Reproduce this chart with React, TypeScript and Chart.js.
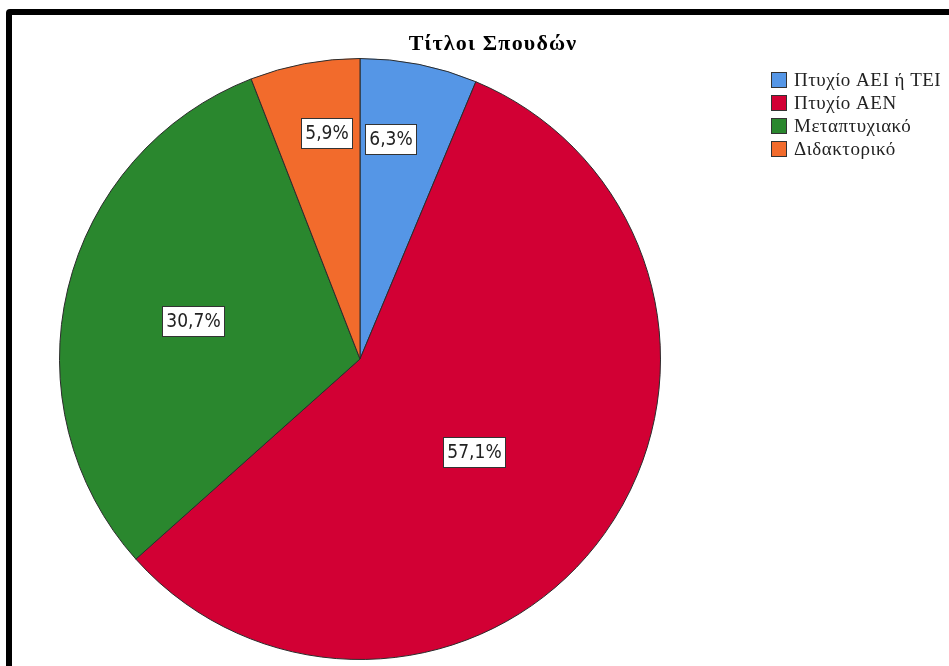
import React, { useEffect, useRef } from "react";
import { Chart, registerables } from "chart.js";

Chart.register(...registerables);

const titleText = "Τίτλοι Σπουδών";
const categories = ["Πτυχίο ΑΕΙ ή ΤΕΙ", "Πτυχίο ΑΕΝ", "Μεταπτυχιακό", "Διδακτορικό"];
const values = [6.3, 57.1, 30.7, 5.9];
const valueLabels = ["6,3%", "57,1%", "30,7%", "5,9%"];
const colors = ["#5596E6", "#D20034", "#2A872E", "#F26B2C"];

// label placement styling: fraction of radius, angle offset from slice middle (degrees)
const labelRadiusFrac = [0.74, 0.49, 0.57, 0.76];
const labelAngleOffset = [-3.5, 3.8, -0.7, 2.3];

const overlayPlugin = {
  id: "overlay",
  afterDatasetsDraw(chart: any) {
    const ctx = chart.ctx;
    const meta = chart.getDatasetMeta(0);
    ctx.save();
    // value labels
    ctx.font = '19px "DejaVu Sans Condensed", "Liberation Sans", sans-serif';
    ctx.textAlign = "center";
    ctx.textBaseline = "middle";
    meta.data.forEach((arc: any, i: number) => {
      const mid = (arc.startAngle + arc.endAngle) / 2 + (labelAngleOffset[i] * Math.PI) / 180;
      const r = arc.outerRadius * labelRadiusFrac[i];
      const x = arc.x + Math.cos(mid) * r;
      const y = arc.y + Math.sin(mid) * r;
      const w = Math.round(ctx.measureText(valueLabels[i]).width + 8);
      const h = 30;
      const bx = Math.round(x - w / 2) + 0.5;
      const by = Math.round(y - h / 2) + 0.5;
      ctx.fillStyle = "#ffffff";
      ctx.fillRect(bx, by, w, h);
      ctx.strokeStyle = "#333333";
      ctx.lineWidth = 1;
      ctx.strokeRect(bx, by, w, h);
      ctx.fillStyle = "#222222";
      ctx.fillText(valueLabels[i], bx + w / 2, by + h / 2 + 1);
    });
    // title
    ctx.font = 'bold 22px "Liberation Serif", "Times New Roman", serif';
    (ctx as any).letterSpacing = "1.2px";
    ctx.fillStyle = "#000000";
    ctx.textAlign = "center";
    ctx.fillText(titleText, 493, 44);
    // legend
    ctx.font = '19px "Liberation Serif", "Times New Roman", serif';
    (ctx as any).letterSpacing = "0.5px";
    ctx.textAlign = "left";
    categories.forEach((c, i) => {
      const y = 72 + i * 23;
      ctx.fillStyle = colors[i];
      ctx.fillRect(771.5, y + 0.5, 15, 15);
      ctx.strokeStyle = "#333333";
      ctx.strokeRect(771.5, y + 0.5, 15, 15);
      ctx.fillStyle = "#222222";
      ctx.fillText(c, 794, y + 9);
    });
    (ctx as any).letterSpacing = "0px";
    ctx.restore();
  },
};

export default function App() {
  const ref = useRef<HTMLCanvasElement | null>(null);
  useEffect(() => {
    if (!ref.current) return;
    const chart = new Chart(ref.current, {
      type: "pie",
      data: {
        labels: categories,
        datasets: [
          {
            data: values,
            backgroundColor: colors,
            borderColor: "#2b2b2b",
            borderWidth: 1,
          },
        ],
      },
      options: {
        responsive: false,
        animation: false,
        layout: { padding: { left: 59, top: 58, right: 288, bottom: 6 } },
        plugins: {
          legend: { display: false },
          title: { display: false },
          tooltip: { enabled: false },
        },
      },
      plugins: [overlayPlugin],
    });
    return () => chart.destroy();
  }, []);
  return (
    <div style={{ position: "fixed", left: 0, top: 0, width: 949, height: 666, overflow: "hidden", background: "#fff" }}>
      <div
        style={{
          position: "absolute",
          left: 6,
          top: 9,
          width: 1000,
          height: 720,
          border: "6px solid #000",
          borderRadius: 4,
          boxSizing: "border-box",
        }}
      />
      <canvas ref={ref} width={949} height={666} style={{ position: "absolute", left: 0, top: 0 }} />
    </div>
  );
}
